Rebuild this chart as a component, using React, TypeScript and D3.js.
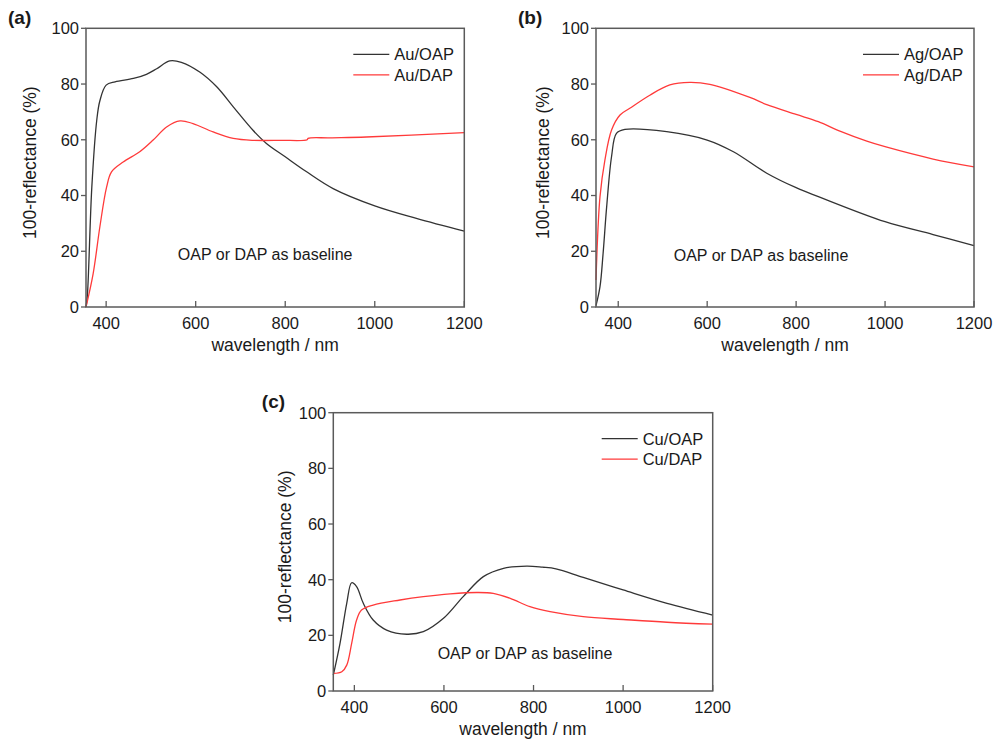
import React from 'react';
import * as d3 from 'd3';

// wavelength ticks and reflectance ticks shared by all three panels
const xTicks = [400, 600, 800, 1000, 1200];
const yTicks = [0, 20, 40, 60, 80, 100];

// (a) Au
const auOapWl = [355, 358, 368, 379, 386, 400, 420, 461, 490, 513, 542, 568, 609, 647, 684, 728, 758, 800, 847, 907, 1000, 1093, 1200];
const auOapVal = [0, 4, 43, 67, 74, 79.6, 80.8, 82, 83.5, 85.5, 88.3, 87.8, 84.3, 79, 71.8, 63.4, 58.7, 53.9, 48.6, 42.5, 36.3, 31.8, 27.2];
const auDapWl = [355, 371, 386, 401, 412, 438, 475, 505, 535, 565, 594, 639, 684, 728, 790, 849, 851, 900, 981, 1200];
const auDapVal = [0, 12, 28.8, 43, 48.5, 52, 55.7, 59.9, 64.6, 66.8, 65.8, 62.8, 60.5, 59.8, 59.8, 60, 60.5, 60.7, 61, 62.6];

// (b) Ag
const agOapWl = [350, 359, 366, 374, 385, 396, 415, 509, 600, 659, 734, 800, 850, 1000, 1108, 1200];
const agOapVal = [0.5, 7.3, 19.3, 36, 54, 62.3, 63.7, 62.9, 59.9, 55.7, 48, 42.8, 39.6, 30.6, 26, 22];
const agDapWl = [350, 359, 370, 385, 404, 426, 471, 516, 561, 606, 696, 734, 800, 850, 900, 959, 1000, 1108, 1200];
const agDapVal = [9.7, 39.6, 52.7, 63.5, 68.9, 71.3, 76, 79.7, 80.6, 79.9, 75.2, 72.6, 69.1, 66.5, 63, 59.5, 57.5, 53.1, 50.3];

// (c) Cu
const cuOapWl = [353, 368, 383, 394, 405, 420, 442, 472, 517, 554, 599, 643, 688, 733, 785, 820, 850, 911, 1000, 1098, 1200];
const cuOapVal = [5.7, 17.1, 31.5, 38.9, 37.5, 31.5, 25.5, 21.9, 20.4, 21.3, 26.1, 33.9, 41.1, 44.1, 44.9, 44.5, 43.9, 40.8, 36.3, 31.5, 27.3];
const cuDapWl = [353, 372, 383, 394, 405, 416, 442, 502, 554, 614, 673, 710, 748, 792, 837, 911, 1000, 1098, 1200];
const cuDapVal = [6.3, 6.9, 9.3, 17.1, 25.5, 29.1, 30.9, 32.7, 33.9, 34.9, 35.4, 35.1, 33.3, 30.3, 28.5, 26.7, 25.7, 24.7, 24];

const FONT = '"Liberation Sans", Arial, Helvetica, sans-serif';
const BLACK = '#333333';
const RED = '#ff3a3a';

type Series = { name: string; wl: number[]; val: number[]; color: string };

type PanelProps = {
  tag: string;
  tagX: number;
  tagY: number;
  left: number;
  top: number;
  width: number;
  height: number;
  xMin: number;
  series: Series[];
  noteDx: number;
  noteDy: number;
  titleDx: number;
};

const Panel = ({ tag, tagX, tagY, left, top, width, height, xMin, series, noteDx, noteDy, titleDx }: PanelProps) => {
  const x = d3.scaleLinear().domain([xMin, 1200]).range([0, width]);
  const y = d3.scaleLinear().domain([0, 100]).range([height, 0]);
  const line = d3.line<[number, number]>()
    .x(d => x(d[0]))
    .y(d => y(d[1]))
    .curve(d3.curveCatmullRom.alpha(0.5));

  return (
    <g transform={`translate(${left},${top})`} fontFamily={FONT} fill="#1a1a1a">
      <text x={tagX} y={tagY} fontSize={19} fontWeight="bold">{tag}</text>

      {series.map(s => (
        <path
          key={s.name}
          d={line(s.wl.map((w, i) => [w, s.val[i]] as [number, number])) || ''}
          fill="none"
          stroke={s.color}
          strokeWidth={1.3}
        />
      ))}

      <rect x={0} y={0} width={width} height={height} fill="none" stroke="#5a5a5a" strokeWidth={1.5} />

      {xTicks.map(t => (
        <g key={t} transform={`translate(${x(t)},${height})`}>
          <line y1={0} y2={-6} stroke="#5a5a5a" strokeWidth={1.3} />
          <text y={21.5} textAnchor="middle" fontSize={16.5}>{t}</text>
        </g>
      ))}
      {yTicks.map(t => (
        <g key={t} transform={`translate(0,${y(t)})`}>
          <line x1={0} x2={-5} stroke="#5a5a5a" strokeWidth={1.3} />
          <text x={-7} dy="0.36em" textAnchor="end" fontSize={16.5}>{t}</text>
        </g>
      ))}

      <text x={width / 2} y={height + 44} textAnchor="middle" fontSize={17.5}>wavelength / nm</text>
      <text
        transform={`translate(${titleDx},${height / 2 - 5}) rotate(-90)`}
        textAnchor="middle"
        dy="0.35em"
        fontSize={17.5}
      >
        100-reflectance (%)
      </text>

      <text x={width / 2 + noteDx} y={height + noteDy} textAnchor="middle" fontSize={16}>OAP or DAP as baseline</text>

      {series.map((s, i) => (
        <g key={s.name} transform={`translate(${width - 111},${26 + i * 20.5})`}>
          <line x1={0} x2={36} stroke={s.color} strokeWidth={1.3} />
          <text x={41} dy="0.36em" fontSize={16.5}>{s.name}</text>
        </g>
      ))}
    </g>
  );
};

const App = () => {
  return (
    <svg width={996} height={740} style={{ position: 'absolute', left: 0, top: 0, background: '#fff' }}>
      <Panel
        tag="(a)" tagX={-78} tagY={-4} left={86} top={28.3} width={378.3} height={278.7} xMin={355}
        noteDx={-10} noteDy={-46.5} titleDx={-56}
        series={[
          { name: 'Au/OAP', wl: auOapWl, val: auOapVal, color: BLACK },
          { name: 'Au/DAP', wl: auDapWl, val: auDapVal, color: RED },
        ]}
      />
      <Panel
        tag="(b)" tagX={-78} tagY={-4} left={596} top={28.3} width={378} height={278.7} xMin={350}
        noteDx={-24} noteDy={-45.5} titleDx={-53}
        series={[
          { name: 'Ag/OAP', wl: agOapWl, val: agOapVal, color: BLACK },
          { name: 'Ag/DAP', wl: agDapWl, val: agDapVal, color: RED },
        ]}
      />
      <Panel
        tag="(c)" tagX={-71.5} tagY={-5} left={333.3} top={412.7} width={379.4} height={278.3} xMin={353}
        noteDx={2} noteDy={-31.5} titleDx={-48}
        series={[
          { name: 'Cu/OAP', wl: cuOapWl, val: cuOapVal, color: BLACK },
          { name: 'Cu/DAP', wl: cuDapWl, val: cuDapVal, color: RED },
        ]}
      />
    </svg>
  );
};

export default App;
